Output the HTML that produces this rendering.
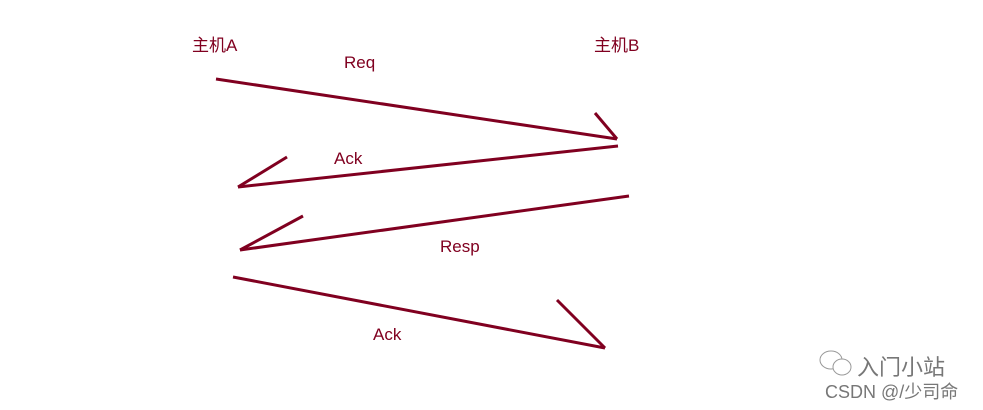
<!DOCTYPE html>
<html><head><meta charset="utf-8"><style>
body{margin:0;background:#fff;width:983px;height:410px;overflow:hidden}
</style></head><body>
<svg width="983" height="410" xmlns="http://www.w3.org/2000/svg" style="position:absolute;left:0;top:0">
<g stroke="#800020" stroke-width="3" fill="none" stroke-linecap="butt">
<line x1="216" y1="79" x2="617" y2="139"/>
<line x1="595" y1="113" x2="617" y2="139"/>
<line x1="618" y1="146" x2="238" y2="187"/>
<line x1="287" y1="157" x2="238" y2="187"/>
<line x1="629" y1="196" x2="240" y2="250"/>
<line x1="303" y1="216" x2="240" y2="250"/>
<line x1="233" y1="277" x2="605" y2="348"/>
<line x1="557" y1="300" x2="605" y2="348"/>
</g>
<g fill="#800020" font-family="Liberation Sans, Noto Sans CJK SC, sans-serif" font-size="17">
<text x="192" y="51">主机A</text>
<text x="594" y="51">主机B</text>
<text x="344" y="68">Req</text>
<text x="334" y="164">Ack</text>
<text x="440" y="252">Resp</text>
<text x="373" y="340">Ack</text>
</g>
<g fill="#777" font-family="Liberation Sans, Noto Sans CJK SC, sans-serif">
<text x="857" y="375" font-size="22">入门小站</text>
<text x="825" y="398" font-size="18">CSDN @/少司命</text>
</g>
<g fill="none" stroke="#999" stroke-width="1">
<ellipse cx="831" cy="360" rx="11" ry="9"/>
<ellipse cx="842" cy="367" rx="9" ry="8" fill="#fff"/>
</g>
</svg>
</body></html>
